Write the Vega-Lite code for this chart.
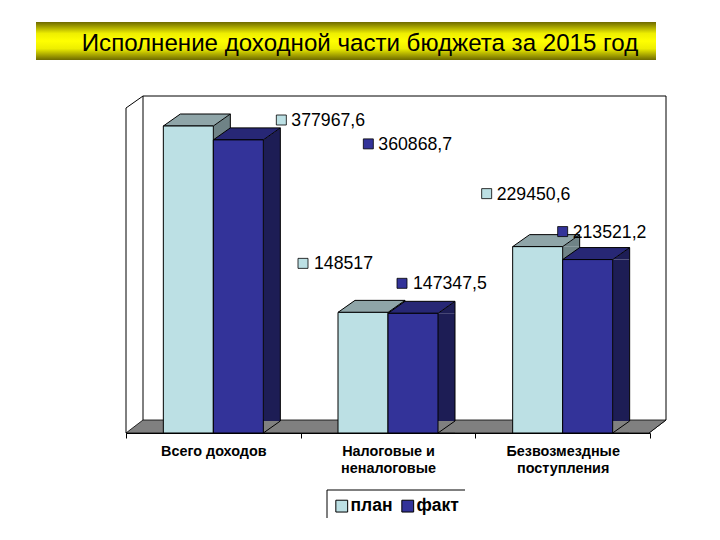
{
  "$schema": "https://vega.github.io/schema/vega-lite/v6.json",
  "width": 720,
  "height": 540,
  "padding": 0,
  "autosize": {"type": "none"},
  "background": "white",
  "view": {"stroke": null},
  "title": {
    "text": "Исполнение доходной части бюджета за 2015 год",
    "font": "Liberation Sans",
    "fontSize": 24.1,
    "fontWeight": "normal",
    "color": "black",
    "anchor": "middle",
    "baseline": "middle",
    "offset": -68,
    "zindex": 2
  },
  "datasets": {
    "budget": [
      {"category": "Всего доходов", "series": "план", "value": 377967.6, "label": "377967,6"},
      {"category": "Всего доходов", "series": "факт", "value": 360868.7, "label": "360868,7"},
      {"category": "Налоговые и неналоговые", "series": "план", "value": 148517, "label": "148517"},
      {"category": "Налоговые и неналоговые", "series": "факт", "value": 147347.5, "label": "147347,5"},
      {"category": "Безвозмездные поступления", "series": "план", "value": 229450.6, "label": "229450,6"},
      {"category": "Безвозмездные поступления", "series": "факт", "value": 213521.2, "label": "213521,2"}
    ]
  },
  "data": {"name": "budget"},
  "encoding": {
    "x": {
      "field": "category",
      "type": "nominal",
      "sort": null,
      "scale": {"range": [126, 650], "paddingInner": 0, "paddingOuter": 0},
      "axis": {
        "title": null,
        "offset": -107,
        "zindex": 1,
        "labelAngle": 0,
        "labelFont": "Liberation Sans",
        "labelFontSize": 14.4,
        "labelFontWeight": "bold",
        "labelColor": "black",
        "labelPadding": 6,
        "labelLineHeight": 17,
        "labelLimit": 200,
        "labelExpr": "datum.value == 'Налоговые и неналоговые' ? ['Налоговые и', 'неналоговые'] : datum.value == 'Безвозмездные поступления' ? ['Безвозмездные', 'поступления'] : datum.value",
        "tickBand": "extent",
        "tickSize": 5,
        "tickColor": "black",
        "domainColor": "black",
        "grid": false
      }
    },
    "y": {
      "field": "value",
      "type": "quantitative",
      "scale": {"domain": [0, 377967.6], "range": [433, 126], "nice": false},
      "axis": null
    }
  },
  "layer": [
    {
      "data": {"values": [{"part": "banner"}]},
      "mark": {
        "type": "rect",
        "color": {
          "gradient": "linear",
          "x1": 0, "y1": 0, "x2": 0, "y2": 1,
          "stops": [
            {"offset": 0, "color": "#6e6a00"},
            {"offset": 0.3, "color": "#eeee00"},
            {"offset": 0.5, "color": "#ffff00"},
            {"offset": 0.7, "color": "#eeee00"},
            {"offset": 1, "color": "#6e6a00"}
          ]
        }
      },
      "encoding": {
        "x": {"value": 36},
        "x2": {"value": 656},
        "y": {"value": 22},
        "y2": {"value": 60}
      }
    },
    {
      "data": {"values": [{"part": "walls"}]},
      "mark": {
        "type": "point",
        "filled": true,
        "opacity": 1,
        "size": 4,
        "fill": "white",
        "stroke": "black",
        "strokeWidth": 1,
        "shape": "M126,433 L126,108 L143,96 L666,96 L666,420 L649,433 Z"
      },
      "encoding": {"x": {"value": 0}, "y": {"value": 0}}
    },
    {
      "data": {"values": [{"part": "back edges"}]},
      "mark": {
        "type": "point",
        "filled": false,
        "opacity": 1,
        "size": 4,
        "stroke": "black",
        "strokeWidth": 1,
        "shape": "M143,96 L143,420"
      },
      "encoding": {"x": {"value": 0}, "y": {"value": 0}}
    },
    {
      "data": {"values": [{"part": "floor"}]},
      "mark": {
        "type": "point",
        "filled": true,
        "opacity": 1,
        "size": 4,
        "fill": "#808080",
        "stroke": "black",
        "strokeWidth": 0.8,
        "shape": "M126,433 L143,420 L666,420 L649,433 Z"
      },
      "encoding": {"x": {"value": 0}, "y": {"value": 0}}
    },
    {
      "data": {"values": [{"part": "legend box"}]},
      "mark": {
        "type": "point",
        "filled": false,
        "opacity": 1,
        "size": 4,
        "stroke": "black",
        "strokeWidth": 1,
        "shape": "M327,518 L327,490 L465,490"
      },
      "encoding": {"x": {"value": 0}, "y": {"value": 0}}
    },
    {
      "mark": {
        "type": "bar",
        "width": 17,
        "xOffset": {"expr": "datum.series == 'план' ? 8.5 : 58.5"},
        "y2Offset": -12
      },
      "encoding": {
        "y2": {"datum": 0},
        "fill": {"condition": {"test": "datum.series == 'план'", "value": "#6f8386"}, "value": "#1d1d55"}
      }
    },
    {
      "mark": {
        "type": "point",
        "filled": true,
        "opacity": 1,
        "size": 4,
        "strokeWidth": 0,
        "xOffset": {"expr": "datum.series == 'план' ? -25 : 25"},
        "shape": "M25,0 L42,-12 L42,0 Z"
      },
      "encoding": {
        "fill": {"condition": {"test": "datum.series == 'план'", "value": "#6f8386"}, "value": "#1d1d55"}
      }
    },
    {
      "mark": {
        "type": "rule",
        "color": "black",
        "strokeWidth": 1,
        "xOffset": {"expr": "datum.series == 'план' ? 17 : 67"},
        "yOffset": -12,
        "y2Offset": -12
      },
      "encoding": {"y2": {"datum": 0}}
    },
    {
      "mark": {
        "type": "point",
        "filled": true,
        "opacity": 1,
        "size": 4,
        "fill": "#808080",
        "stroke": "black",
        "strokeWidth": 1,
        "xOffset": {"expr": "datum.series == 'план' ? -25 : 25"},
        "shape": "M42,0 L25,0 L42,-12"
      },
      "encoding": {"y": {"datum": 0}}
    },
    {
      "mark": {
        "type": "point",
        "filled": true,
        "opacity": 1,
        "size": 4,
        "stroke": "black",
        "strokeWidth": 1,
        "xOffset": {"expr": "datum.series == 'план' ? -25 : 25"},
        "shape": "M-25,0 L25,0 L42,-12 L-8,-12 Z"
      },
      "encoding": {
        "fill": {"condition": {"test": "datum.series == 'план'", "value": "#8fa5a8"}, "value": "#272775"}
      }
    },
    {
      "mark": {
        "type": "bar",
        "width": 50,
        "stroke": "black",
        "strokeWidth": 1,
        "xOffset": {"expr": "datum.series == 'план' ? -25 : 25"}
      },
      "encoding": {
        "y2": {"datum": 0},
        "fill": {
          "field": "series",
          "type": "nominal",
          "sort": null,
          "scale": {"domain": ["план", "факт"], "range": ["#bce0e4", "#333399"]},
          "legend": {
            "title": null,
            "orient": "none",
            "legendX": 333,
            "legendY": 497,
            "direction": "horizontal",
            "symbolType": "square",
            "symbolSize": 140,
            "symbolStrokeColor": "black",
            "symbolStrokeWidth": 1,
            "symbolOpacity": 1,
            "labelFont": "Liberation Sans",
            "labelFontSize": 17.5,
            "labelFontWeight": "bold",
            "labelColor": "black",
            "labelOffset": 0,
            "columnPadding": 6,
            "padding": 0
          }
        }
      }
    },
    {
      "mark": {
        "type": "point",
        "shape": "square",
        "filled": true,
        "opacity": 1,
        "size": 100,
        "stroke": "black",
        "strokeWidth": 0.8,
        "xOffset": {"expr": "{'377967,6': 68, '360868,7': 155, '148517': -85, '147347,5': 14, '229450,6': -76, '213521,2': 0}[datum.label]"},
        "yOffset": {"expr": "{'377967,6': -6, '360868,7': 4, '148517': -49, '147347,5': -30, '229450,6': -53, '213521,2': -28}[datum.label]"}
      },
      "encoding": {
        "fill": {"field": "series", "type": "nominal", "sort": null, "legend": null}
      }
    },
    {
      "mark": {
        "type": "text",
        "align": "left",
        "baseline": "middle",
        "font": "Liberation Sans",
        "fontSize": 17.7,
        "color": "black",
        "xOffset": {"expr": "{'377967,6': 78, '360868,7': 165, '148517': -74, '147347,5': 25, '229450,6': -66, '213521,2': 10}[datum.label]"},
        "yOffset": {"expr": "{'377967,6': -5, '360868,7': 5, '148517': -48, '147347,5': -29, '229450,6': -52, '213521,2': -27}[datum.label]"}
      },
      "encoding": {"text": {"field": "label"}}
    }
  ]
}
